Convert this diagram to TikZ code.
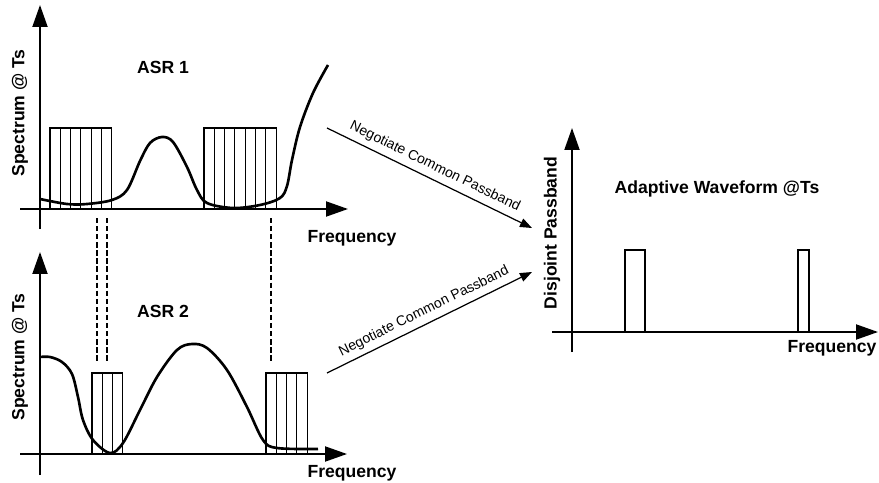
\documentclass[tikz,border=0pt]{standalone}
\usepackage{fontspec}
\setmainfont{Liberation Sans}
\usetikzlibrary{arrows.meta}
\begin{document}
\begin{tikzpicture}[
            x=0.02cm,
            y=-0.02cm,
            axis line/.style={line width=1.1pt, -{Triangle[length=0.44cm, width=0.3cm]}},
            band cell/.style={draw, line width=0.6pt},
            gain curve/.style={line width=1.5pt, smooth, tension=0.55},
            guide line/.style={line width=0.6pt, dash pattern=on 3pt off 1.6pt},
            axis label/.style={inner sep=0pt, font=\fontsize{10}{12}\selectfont\bfseries},
            deal arrow/.style={line width=0.7pt, -{Triangle[length=0.24cm, width=0.18cm]}},
            deal label/.style={inner sep=0pt, font=\fontsize{8}{10}\selectfont, midway, above=3pt, sloped}
        ]
        \useasboundingbox (0,0) rectangle (879,483);
        % subbands of ASR 1 and ASR 2
        \foreach \x/\n/\top/\bot in {
                50/6/128/209,
                204/7/128/209,
                92/3/373/454,
                266/4/373/454
            } {
                \foreach \i in {1,...,\n} {
                    \draw[band cell] (\x+\i*10.3-10.3,\top) rectangle (\x+\i*10.3,\bot);
                }
            }
        % passbands of the adaptive waveform
        \draw[band cell] (625,250) rectangle (645,332);
        \draw[band cell] (798,250) rectangle (809,332);
        % dashed guides between the two spectra
        \foreach \x in {97,107,271} {
                \draw[guide line] (\x,218) -- (\x,362);
            }
        % spectra
        \draw[gain curve] plot coordinates {(40,199) (67,204) (87,204) (112,200) (127,190) (140,161) (150,143) (162,137) (173,142) (187,167) (197,190) (207,203) (233,208) (260,205) (280,198) (287,186) (292,160) (300,127) (313,93) (328,65)};
        \draw[gain curve] plot coordinates {(40,357) (50,357) (62,362) (72,374) (78,397) (83,420) (93,440) (110,453) (123,443) (140,410) (157,377) (177,350) (192,344) (207,348) (227,370) (247,407) (263,440) (277,448) (318,449)};
        % axes
        \draw[axis line] (40,229) -- (40,5);
        \draw[axis line] (20,209) -- (348,209);
        \draw[axis line] (40,475) -- (40,252);
        \draw[axis line] (20,454) -- (347,454);
        \draw[axis line] (572,352) -- (572,128);
        \draw[axis line] (552,332) -- (878,332);
        % texts
        \node[axis label] (asr1) at (163,67) {ASR 1};
        \node[axis label] (asr2) at (163,311) {ASR 2};
        \node[axis label] (wave) at (717,189) {Adaptive Waveform @Ts};
        \node[axis label, rotate=90] (spec1) at (20,113) {Spectrum @ Ts};
        \node[axis label, rotate=90] (spec2) at (20,357) {Spectrum @ Ts};
        \node[axis label, rotate=90] (disj) at (552,233) {Disjoint Passband};
        \node[axis label] (freq1) at (352,238) {Frequency};
        \node[axis label] (freq2) at (352,473) {Frequency};
        \node[axis label] (freq3) at (832,348) {Frequency};
        % negotiation
        \coordinate (from1) at (327,128);
        \coordinate (from2) at (327,373);
        \coordinate (to1) at (532,228);
        \coordinate (to2) at (532,272);
        \draw[deal arrow] (from1) -- (to1) node[deal label] {Negotiate Common Passband};
        \draw[deal arrow] (from2) -- (to2) node[deal label] {Negotiate Common Passband};
    \end{tikzpicture}
\end{document}
